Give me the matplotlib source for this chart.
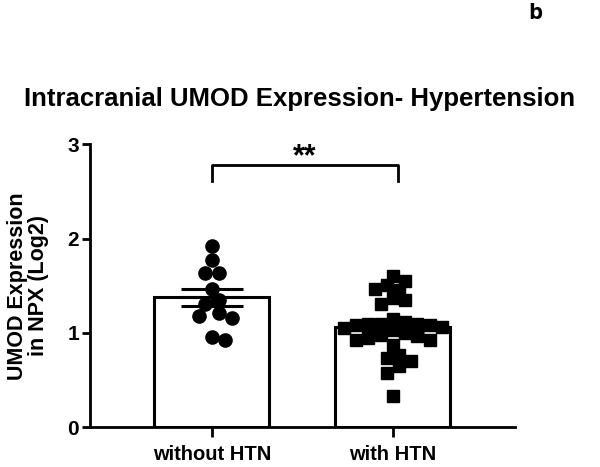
import numpy as np
import matplotlib
matplotlib.use("Agg")
import matplotlib.pyplot as plt

plt.rcParams['font.family'] = ['Liberation Sans', 'DejaVu Sans']
plt.rcParams['font.weight'] = 'bold'

# data
groups = ['without HTN', 'with HTN']
no_htn = [1.92, 1.77, 1.64, 1.64, 1.47, 1.35, 1.31, 1.21, 1.18, 1.16, 0.96, 0.93]
htn = [1.60, 1.55, 1.51, 1.47, 1.46, 1.37, 1.35, 1.31,
       1.15, 1.12, 1.10, 1.10, 1.10, 1.08, 1.08, 1.06, 1.05, 1.03,
       1.00, 0.98, 0.97, 0.95, 0.93, 0.93,
       0.87, 0.77, 0.73, 0.70, 0.65, 0.58, 0.33]
markers = ['o', 's']
sig_label = '**'


def swarm(vals, ax, ms_px, tight=0.98):
    """greedy beeswarm offsets (data units of x) so markers don't overlap"""
    trans = ax.transData
    order = np.argsort(vals)[::-1]
    placed = []
    offs = np.zeros(len(vals))
    px_per_x = trans.transform((1, 0))[0] - trans.transform((0, 0))[0]
    px_per_y = trans.transform((0, 0))[1] - trans.transform((0, 1))[1]
    step = ms_px / 2.0
    dmin = ms_px * tight
    for i in order:
        yp = -vals[i] * px_per_y
        for k in range(0, 40):
            cand = [0.0] if k == 0 else [k * step, -k * step]
            ok = None
            for c in cand:
                if all((c - px) ** 2 + (yp - py) ** 2 >= dmin ** 2 for px, py in placed):
                    ok = c
                    break
            if ok is not None:
                placed.append((ok, yp))
                offs[i] = ok / px_per_x
                break
    return offs


fig = plt.figure(figsize=(6.0, 4.67), dpi=100)
ax = fig.add_axes([0.15, 0.085, 0.708, 0.606])
ax.set_xlim(-0.674, 1.674)
ax.set_ylim(0, 3)

lw = 2.2
for i, vals in enumerate([no_htn, htn]):
    v = np.array(vals)
    m = v.mean()
    sem = v.std(ddof=1) / np.sqrt(len(v))
    ax.bar(i, m, width=0.635, color='white', edgecolor='black', linewidth=lw, zorder=1)
    ms = 9.5 if markers[i] == 'o' else 8.8
    offs = swarm(v, ax, ms * 100 / 72, tight=0.98 if i == 0 else 0.85)
    ax.plot(i + offs, v, linestyle='none', marker=markers[i], ms=ms,
            color='black', zorder=3)
    ax.errorbar(i, m, yerr=sem, color='black', capsize=22, elinewidth=lw,
                capthick=lw, zorder=4)
    ax.plot([i - 0.17, i + 0.17], [m, m], color='black', lw=lw, zorder=4)

# significance bracket
ax.plot([0, 0, 1.03, 1.03], [2.61, 2.78, 2.78, 2.61], color='black', lw=2,
        clip_on=False)
ax.text(0.515, 2.78, sig_label, ha='center', va='baseline', fontsize=22,
        fontweight='bold')

ax.set_xticks([0, 1])
ax.set_xticklabels(groups, fontsize=14.5, fontweight='bold')
ax.set_yticks([0, 1, 2, 3])
ax.tick_params(axis='y', labelsize=15, width=2, length=6, pad=2)
ax.tick_params(axis='x', width=2, length=7, pad=6)
for lab in ax.get_yticklabels():
    lab.set_fontweight('bold')
for s in ['top', 'right']:
    ax.spines[s].set_visible(False)
for s in ['left', 'bottom']:
    ax.spines[s].set_linewidth(2)

ax.set_ylabel('UMOD Expression\nin NPX (Log2)', fontsize=15.5, fontweight='bold',
              labelpad=13, linespacing=1.0)
fig.text(0.5, 0.788, 'Intracranial UMOD Expression- Hypertension',
         ha='center', va='center', fontsize=18.5, fontweight='bold')
fig.text(0.893, 0.972, 'b', ha='center', va='center', fontsize=16,
         fontweight='bold', family=['Open Sans', 'DejaVu Sans'])

fig.savefig('out.png', dpi=100)
